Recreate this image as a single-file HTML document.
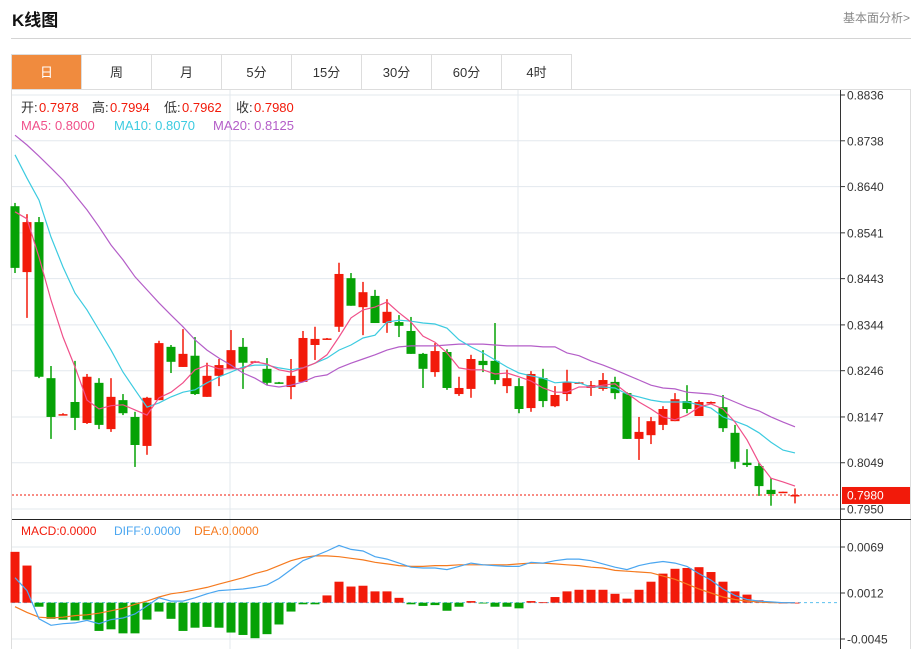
<!DOCTYPE html>
<html><head><meta charset="utf-8">
<style>
body{margin:0;width:919px;height:649px;overflow:hidden;background:#fff;font-family:"Liberation Sans","Noto Sans CJK SC",sans-serif;}
#title{position:absolute;left:12px;top:6px;font-size:17px;font-weight:bold;color:#111;}
#fund{position:absolute;left:843px;top:9px;font-size:12px;color:#888;}
#sep{position:absolute;left:11px;top:38px;width:900px;height:1px;background:#d4d4d4;}
#tabs{position:absolute;left:11px;top:54px;height:36px;display:flex;border:1px solid #ddd;border-right:none;box-sizing:border-box;}
.tab{width:70px;height:35px;line-height:35px;text-align:center;font-size:13px;color:#333;border-right:1px solid #ddd;box-sizing:border-box;}
.tab.on{background:#f08b3e;color:#fff;}
svg{position:absolute;left:0;top:0;}
</style></head><body>
<div id="title">K线图</div>
<div id="fund">基本面分析&gt;</div>
<div id="sep"></div>
<div id="tabs">
<div class="tab on">日</div>
<div class="tab">周</div>
<div class="tab">月</div>
<div class="tab">5分</div>
<div class="tab">15分</div>
<div class="tab">30分</div>
<div class="tab">60分</div>
<div class="tab">4时</div>
</div>
<svg id="chart" width="919" height="649" font-family="Liberation Sans, Noto Sans CJK SC, sans-serif"></svg>
<script>
const opens=[.8598,.8457,.8564,.8230,.8153,.8179,.8134,.8220,.8121,.8183,.8147,.8085,.8183,.8297,.8254,.8278,.8190,.8235,.8250,.8297,.8265,.8250,.8221,.8211,.8222,.8301,.8314,.8340,.8444,.8382,.8406,.8348,.8350,.8331,.8282,.8243,.8286,.8196,.8207,.8267,.8267,.8213,.8213,.8166,.8230,.8170,.8196,.8220,.8209,.8207,.8222,.8198,.8100,.8108,.8130,.8138,.8181,.8149,.8178,.8168,.8113,.8049,.8042,.7991,.7986,.7978];
const highs=[.8605,.8581,.8575,.8256,.8155,.8267,.8239,.8230,.8230,.8196,.8158,.8190,.8310,.8301,.8335,.8318,.8263,.8271,.8333,.8316,.8267,.8273,.8222,.8271,.8331,.8340,.8316,.8477,.8455,.8436,.8419,.8399,.8365,.8361,.8284,.8305,.8292,.8233,.8280,.8290,.8348,.8248,.8230,.8245,.8250,.8213,.8248,.8222,.8224,.8241,.8233,.8200,.8147,.8147,.8170,.8198,.8215,.8183,.8180,.8194,.8130,.8078,.8049,.8016,.7987,.7994];
const lows=[.8455,.8359,.8230,.8100,.8151,.8119,.8132,.8121,.8115,.8151,.8040,.8066,.8183,.8241,.8254,.8194,.8190,.8213,.8250,.8207,.8263,.8215,.8218,.8185,.8222,.8269,.8313,.8329,.8385,.8322,.8348,.8327,.8318,.8282,.8209,.8233,.8205,.8192,.8188,.8243,.8217,.8198,.8155,.8158,.8168,.8168,.8181,.8219,.8192,.8203,.8185,.8100,.8055,.8089,.8119,.8138,.8155,.8149,.8177,.8115,.8036,.8040,.7978,.7957,.7985,.7962];
const closes=[.8466,.8564,.8233,.8147,.8153,.8145,.8233,.8130,.8190,.8155,.8087,.8188,.8305,.8265,.8282,.8196,.8235,.8258,.8290,.8263,.8266,.8220,.8220,.8235,.8316,.8314,.8315,.8453,.8385,.8414,.8348,.8372,.8342,.8282,.8250,.8288,.8209,.8209,.8271,.8258,.8226,.8230,.8164,.8239,.8181,.8194,.8222,.8221,.8215,.8226,.8198,.8100,.8115,.8138,.8164,.8185,.8164,.8179,.8179,.8123,.8051,.8044,.7999,.7982,.7987,.7980];
const ma5=[.8586,.8571,.8489,.8397,.8318,.8254,.8183,.8164,.8171,.8173,.8162,.8151,.8188,.8200,.8220,.8248,.8258,.8250,.8250,.8250,.8265,.8260,.8248,.8243,.8252,.8262,.8280,.8318,.8359,.8376,.8382,.8393,.8370,.8350,.8320,.8307,.8284,.8252,.8248,.8248,.8239,.8241,.8233,.8224,.8209,.8200,.8200,.8211,.8211,.8215,.8218,.8198,.8179,.8164,.8147,.8141,.8151,.8168,.8175,.8164,.8136,.8098,.8049,.8016,.8008,.7999];
const ma10=[.8708,.8658,.8611,.8532,.8468,.8412,.8376,.8333,.8290,.8243,.8205,.8168,.8177,.8190,.8200,.8205,.8220,.8233,.8243,.8254,.8258,.8258,.8252,.8248,.8252,.8262,.8273,.8290,.8301,.8316,.8322,.8350,.8354,.8352,.8348,.8346,.8337,.8312,.8297,.8284,.8269,.8254,.8241,.8235,.8230,.8220,.8222,.8220,.8211,.8211,.8209,.8196,.8190,.8183,.8179,.8179,.8179,.8173,.8166,.8147,.8138,.8128,.8113,.8093,.8076,.8070];
const ma20=[.8750,.8729,.8705,.8680,.8654,.8622,.8590,.8554,.8515,.8483,.8447,.8419,.8391,.8365,.8340,.8312,.8290,.8273,.8258,.8241,.8230,.8215,.8211,.8215,.8222,.8233,.8237,.8252,.8262,.8271,.8280,.8290,.8297,.8299,.8299,.8299,.8301,.8303,.8303,.8303,.8301,.8299,.8299,.8299,.8297,.8297,.8284,.8278,.8267,.8258,.8248,.8237,.8226,.8215,.8209,.8207,.8200,.8198,.8196,.8190,.8179,.8168,.8160,.8147,.8136,.8126];
const macd=[.0063,.0046,-.0005,-.0020,-.0021,-.0022,-.0021,-.0035,-.0033,-.0038,-.0038,-.0021,-.0011,-.0020,-.0035,-.0031,-.0030,-.0031,-.0037,-.0040,-.0044,-.0039,-.0027,-.0011,-.0002,-.0002,.0009,.0026,.0020,.0021,.0014,.0014,.0006,-.0002,-.0004,-.0003,-.0010,-.0005,.0002,-.00005,-.0005,-.0005,-.0007,.0002,.00005,.0007,.0014,.0016,.0016,.0016,.0011,.0005,.0016,.0026,.0036,.0042,.0043,.0044,.0038,.0026,.0014,.0010,.0003,.0001,0,0];
const diff=[.0031,.0015,-.0020,-.0028,-.0026,-.0025,-.0022,-.0026,-.0021,-.0019,-.0014,-.0004,.0006,.0002,.0002,.0006,.0011,.0015,.0016,.0017,.0019,.0022,.0030,.0041,.0052,.0058,.0064,.0071,.0066,.0064,.0057,.0054,.0049,.0044,.0043,.0043,.0041,.0045,.0049,.0047,.0046,.0045,.0045,.0050,.0049,.0052,.0054,.0054,.0052,.0048,.0044,.0041,.0046,.0049,.0051,.0049,.0045,.0036,.0028,.0017,.0009,.0004,.0002,.0001,0,0];
const dea=[-.0005,-.0012,-.0018,-.0019,-.0018,-.0016,-.0015,-.0013,-.0010,-.0007,-.0002,.0002,.0007,.0011,.0013,.0016,.0019,.0023,.0027,.0031,.0036,.0040,.0046,.0052,.0056,.0058,.0058,.0057,.0055,.0053,.0050,.0048,.0046,.0045,.0045,.0046,.0046,.0047,.0047,.0047,.0047,.0047,.0048,.0049,.0049,.0048,.0047,.0046,.0044,.0043,.0040,.0039,.0038,.0037,.0033,.0029,.0023,.0017,.0012,.0007,.0004,.0002,.0001,0,0,0];
const priceTicks=["0.8836","0.8738","0.8640","0.8541","0.8443","0.8344","0.8246","0.8147","0.8049","0.7950"];
const macdTicks=["0.0069","0.0012","-0.0045"];
const lastPrice=0.7980;

const NS="http://www.w3.org/2000/svg";
const svg=document.getElementById('chart');
function el(t,a,parent){const e=document.createElementNS(NS,t);for(const k in a)e.setAttribute(k,a[k]);(parent||svg).appendChild(e);return e;}
const pMax=0.8836,pMin=0.7950,pTop=95,pBot=509;
const py=v=>pTop+(pMax-v)/(pMax-pMin)*(pBot-pTop);
const mMax=0.0069,mMin=-0.0045,mTop=547,mBot=639;
const my=v=>mTop+(mMax-v)/(mMax-mMin)*(mBot-mTop);
const xi=i=>15+i*12;
const RED="#f21a0a",GREEN="#06a206";

// frame
let r=el('rect',{x:11.5,y:89.5,width:899,height:570,fill:'none',stroke:'#ddd'});


// gridlines
priceTicks.forEach(t=>{const y=py(parseFloat(t));
 const g=el('line',{x1:12,x2:840,y1:y,y2:y,stroke:'#e3e8ee'});
 
 
 const tk=el('line',{x1:840,x2:845,y1:y,y2:y,stroke:'#333'});
 
 
 const tx=el('text',{x:847,y:y+4.5,'font-size':12,fill:'#333'});tx.textContent=t;
 
 
});
macdTicks.forEach(t=>{const y=my(parseFloat(t));
 const g=el('line',{x1:12,x2:840,y1:y,y2:y,stroke:'#e3e8ee'});
 
 
 const tk=el('line',{x1:840,x2:845,y1:y,y2:y,stroke:'#333'});
 
 
 const tx=el('text',{x:847,y:y+4.5,'font-size':12,fill:'#333'});tx.textContent=t;
 
 
});
[230,518].forEach(x=>{const v=el('line',{x1:x,x2:x,y1:90,y2:649,stroke:'#e3e8ee'});
 
 });
const ax=el('line',{x1:840.5,x2:840.5,y1:90,y2:649,stroke:'#333'});


const dv=el('line',{x1:12,x2:911,y1:519.5,y2:519.5,stroke:'#222'});



// MA lines
function line(arr,f,color,name){const d=arr.map((v,i)=>(i?'L':'M')+xi(i).toFixed(1)+' '+f(v).toFixed(1)).join(' ');
 const p=el('path',{d:d,fill:'none',stroke:color,'stroke-width':1.2});
 
 }
// candles
opens.forEach((o,i)=>{const c=closes[i],up=c>=o,col=up?RED:GREEN,x=xi(i);
 const g=el('g',{});
 
 
 el('line',{x1:x,x2:x,y1:py(highs[i]),y2:py(lows[i]),stroke:col,'stroke-width':1.5},g);
 const t=Math.min(py(o),py(c)),h=Math.max(1.5,Math.abs(py(o)-py(c)));
 el('rect',{x:x-4.5,y:t,width:9,height:h,fill:col},g);
});
line(ma20,py,'#b45ec8','ma20-line');
line(ma10,py,'#3ccbe0','ma10-line');
line(ma5,py,'#f0508a','ma5-line');
// last price
const ly=py(lastPrice);
const lp=el('line',{x1:12,x2:840,y1:ly,y2:ly,stroke:RED,'stroke-dasharray':'2,2'});


const lb=el('rect',{x:842,y:ly-8,width:68,height:17,fill:RED});


const lt=el('text',{x:847,y:ly+4.5,'font-size':12,fill:'#fff'});lt.textContent=lastPrice.toFixed(4);


// MACD
const z=my(0);
const zl=el('line',{x1:12,x2:840,y1:z,y2:z,stroke:'#5bc0ee','stroke-dasharray':'3,3'});


macd.forEach((v,i)=>{const y=my(v);
 const b=el('rect',{x:xi(i)-4.5,y:Math.min(y,z),width:9,height:Math.max(0.8,Math.abs(y-z)),fill:v>=0?RED:GREEN});
 
 });
line(dea,my,'#f57a1f','dea-line');
line(diff,my,'#4aa6f0','diff-line');
// legends
function txt(x,y,s,col,name){const t=el('text',{x:x,y:y,'font-size':13,fill:col});t.textContent=s;
 
 }
txt(21,112,'开:','#333','open-label');txt(39,112,'0.7978',RED,'open-value');
txt(92,112,'高:','#333','high-label');txt(110,112,'0.7994',RED,'high-value');
txt(164,112,'低:','#333','low-label');txt(182,112,'0.7962',RED,'low-value');
txt(236,112,'收:','#333','close-label');txt(254,112,'0.7980',RED,'close-value');
txt(21,130,'MA5: 0.8000','#f0508a','ma5-legend');
txt(114,130,'MA10: 0.8070','#3ccbe0','ma10-legend');
txt(213,130,'MA20: 0.8125','#b45ec8','ma20-legend');
function stxt(x,s,col,name){const t=el('text',{x:x,y:535,'font-size':12,fill:col});t.textContent=s;
 
 }
stxt(21,'MACD:0.0000',RED,'macd-legend');
stxt(114,'DIFF:0.0000','#4aa6f0','diff-legend');
stxt(194,'DEA:0.0000','#f57a1f','dea-legend');
</script>
</body></html>
